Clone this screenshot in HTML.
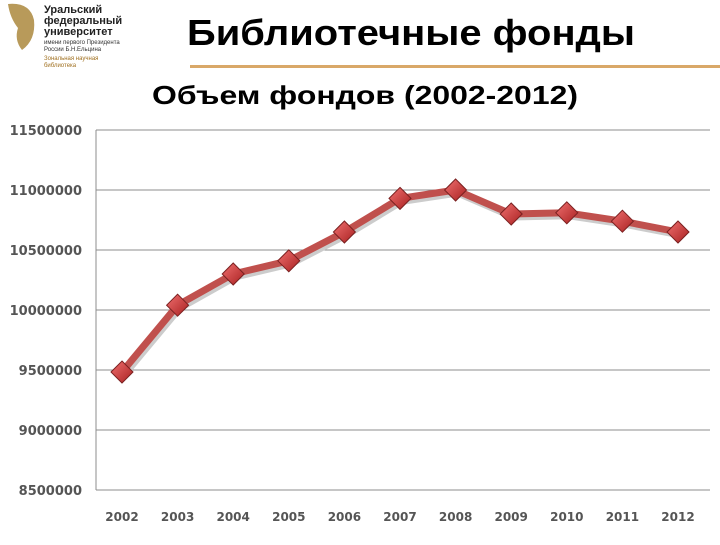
<!DOCTYPE html>
<html><head><meta charset="utf-8"><style>
body{margin:0;width:720px;height:540px;background:#fff;overflow:hidden;font-family:"Liberation Sans",sans-serif}
</style></head><body>
<svg width="720" height="540" xmlns="http://www.w3.org/2000/svg">
<defs>
<linearGradient id="dg" x1="0" y1="0" x2="1" y2="1"><stop offset="0" stop-color="#f07070"/><stop offset="1" stop-color="#a82020"/></linearGradient>
</defs>
<g>
<path d="M8 4 Q30 2 34 20 Q36 40 22 50 Q14 40 18 28 Q10 18 8 4Z" fill="#b89a5a"/>
<text x="44" y="13" font-size="11" font-weight="bold" fill="#222">Уральский</text>
<text x="44" y="24" font-size="11" font-weight="bold" fill="#222">федеральный</text>
<text x="44" y="35" font-size="11" font-weight="bold" fill="#222">университет</text>
<text x="44" y="44" font-size="6" fill="#333">имени первого Президента</text>
<text x="44" y="51" font-size="6" fill="#333">России Б.Н.Ельцина</text>
<text x="44" y="60" font-size="6" fill="#a07020">Зональная научная</text>
<text x="44" y="67" font-size="6" fill="#a07020">библиотека</text>
</g>
<text x="187" y="45" textLength="448" lengthAdjust="spacingAndGlyphs" font-size="36" font-weight="bold" fill="#000">Библиотечные фонды</text>
<rect x="190" y="65" width="530" height="3" fill="#d9a868"/>
<text x="152" y="104" textLength="426" lengthAdjust="spacingAndGlyphs" font-size="26" font-weight="bold" fill="#000">Объем фондов (2002-2012)</text>
<g id="grid"></g>
<g id="ylab"></g>
<g id="xlab"></g>
<g id="series"></g>
</svg>
<script>
const years=["2002","2003","2004","2005","2006","2007","2008","2009","2010","2011","2012"];
const volumes=[9483000,10040000,10300000,10410000,10650000,10930000,11000000,10800000,10810000,10740000,10650000];
const yTicks=[8500000,9000000,9500000,10000000,10500000,11000000,11500000];
const NS="http://www.w3.org/2000/svg";
const y=v=>490-(v-8500000)/500000*60;
const x=i=>122+i*55.6;
function mk(t,a,p){const e=document.createElementNS(NS,t);for(const k in a)e.setAttribute(k,a[k]);p.appendChild(e);return e;}
const grid=document.getElementById('grid'),yl=document.getElementById('ylab'),xl=document.getElementById('xlab'),s=document.getElementById('series');
yTicks.forEach(t=>{
 const l=mk('line',{x1:96,x2:710,y1:y(t),y2:y(t),stroke:'#8c8c8c','stroke-width':1},grid);
 
 
 const tx=mk('text',{x:82,y:y(t)+5,'text-anchor':'end','font-size':13,'font-weight':'bold',fill:'#555','font-family':'DejaVu Sans, sans-serif'},yl);
 tx.textContent=t;
 
 
});
const ax=mk('line',{x1:96,x2:96,y1:130,y2:490,stroke:'#8c8c8c','stroke-width':1},grid);


years.forEach((yr,i)=>{
 const tx=mk('text',{x:x(i),y:521,'text-anchor':'middle','font-size':12,'font-weight':'bold',fill:'#555','font-family':'DejaVu Sans, sans-serif'},xl);
 tx.textContent=yr;
 
 
});
const pts=volumes.map((v,i)=>x(i)+','+y(v)).join(' ');
const sh=mk('polyline',{points:pts,fill:'none',stroke:'#ccc','stroke-width':7,transform:'translate(2,3)','stroke-linejoin':'round'},s);


const pl=mk('polyline',{points:pts,fill:'none',stroke:'#c0504d','stroke-width':7,'stroke-linejoin':'round'},s);


volumes.forEach((v,i)=>{
 const cx=x(i),cy=y(v);
 const d=mk('polygon',{points:`${cx},${cy-11} ${cx+11},${cy} ${cx},${cy+11} ${cx-11},${cy}`,fill:'url(#dg)',stroke:'#7a2020','stroke-width':1},s);
 
 
});
</script>
</body></html>
